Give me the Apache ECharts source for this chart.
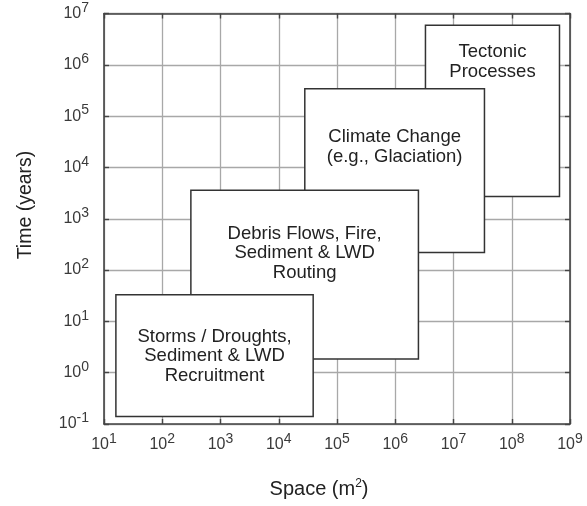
<!DOCTYPE html>
<html>
<head>
<meta charset="utf-8">
<script src="https://cdn.jsdelivr.net/npm/echarts@6/dist/echarts.min.js"></script>
<style>
  html, body { margin: 0; padding: 0; background: #fff; }
  #chart { width: 587px; height: 506px; }
</style>
</head>
<body>
<div id="chart"></div>
<script>
// Process domains: spatial extent (m^2) and time scale (years), drawn back to front
const processNames = [
  'Tectonic\nProcesses',
  'Climate Change\n(e.g., Glaciation)',
  'Debris Flows, Fire,\nSediment & LWD\nRouting',
  'Storms / Droughts,\nSediment & LWD\nRecruitment'
];
const spaceMin = [3.3e6, 2.8e4, 3.1e2, 16];
const spaceMax = [6.6e8, 3.4e7, 2.5e6, 3.9e4];
const timeMin  = [2.7e3, 2.2e2, 1.85, 0.14];
const timeMax  = [5.9e6, 3.4e5, 3.6e3, 33];
// vertical position of each caption (years)
const labelTime = [1.15e6, 2.5e4, 2.15e2, 2.1];

// decade tick exponents
const xTickExponents = [1, 2, 3, 4, 5, 6, 7, 8, 9];
const yTickExponents = [-1, 0, 1, 2, 3, 4, 5, 6, 7];

const FONT = '"Liberation Sans", Arial, Helvetica, sans-serif';

const data = processNames.map((n, i) => [spaceMin[i], spaceMax[i], timeMin[i], timeMax[i], labelTime[i]]);

function powerLabel(exps) {
  return function (v) {
    const e = Math.round(Math.log10(v));
    return exps.indexOf(e) >= 0 ? '{b|10}{s|' + e + '}' : '';
  };
}
const richPow = {
  b: { fontFamily: FONT, fontSize: 16, color: '#3a3a3a' },
  s: { fontFamily: FONT, fontSize: 14, color: '#3a3a3a', padding: [0, 0, 11, 0] }
};

const frame = { show: true, lineStyle: { color: '#444', width: 1.6 } };
const innerTick = { show: true, inside: true, length: 5, lineStyle: { color: '#444', width: 1.4 } };
const grid = { show: true, lineStyle: { color: '#a8a8a8', width: 1.3 } };

const chart = echarts.init(document.getElementById('chart'), null, { renderer: 'canvas' });
chart.setOption({
  animation: false,
  backgroundColor: '#fff',
  grid: { left: 104, right: 17, top: 13.5, bottom: 82 },
  xAxis: [
    {
      type: 'log', logBase: 10, min: 10, max: 1e9, position: 'bottom',
      axisLine: frame, axisTick: innerTick, splitLine: grid, minorTick: { show: false },
      axisLabel: { margin: 8, fontSize: 16, fontFamily: FONT, color: '#3a3a3a',
        formatter: powerLabel(xTickExponents), rich: richPow }
    },
    {
      type: 'log', logBase: 10, min: 10, max: 1e9, position: 'top',
      axisLine: frame, axisTick: innerTick, splitLine: { show: false }, axisLabel: { show: false }
    }
  ],
  yAxis: [
    {
      type: 'log', logBase: 10, min: 0.1, max: 1e7, position: 'left',
      axisLine: frame, axisTick: innerTick, splitLine: grid, minorTick: { show: false },
      axisLabel: { margin: 15, fontSize: 16, fontFamily: FONT, color: '#3a3a3a',
        formatter: powerLabel(yTickExponents), rich: richPow }
    },
    {
      type: 'log', logBase: 10, min: 0.1, max: 1e7, position: 'right',
      axisLine: frame, axisTick: innerTick, splitLine: { show: false }, axisLabel: { show: false }
    }
  ],
  series: [{
    type: 'custom',
    xAxisIndex: 0, yAxisIndex: 0,
    clip: false,
    encode: { x: [0, 1], y: [2, 3, 4] },
    data: data,
    renderItem: function (params, api) {
      const tl = api.coord([api.value(0), api.value(3)]);
      const br = api.coord([api.value(1), api.value(2)]);
      const lc = api.coord([Math.sqrt(api.value(0) * api.value(1)), api.value(4)]);
      return {
        type: 'group',
        children: [
          {
            type: 'rect',
            shape: { x: tl[0], y: tl[1], width: br[0] - tl[0], height: br[1] - tl[1] },
            style: { fill: '#fff', stroke: '#333', lineWidth: 1.5 }
          },
          {
            type: 'text',
            style: {
              text: processNames[params.dataIndex],
              x: lc[0], y: lc[1],
              align: 'center', verticalAlign: 'middle',
              fontFamily: FONT, fontSize: 18.5, lineHeight: 19.5,
              fill: '#222'
            }
          }
        ]
      };
    }
  }],
  graphic: [
    {
      type: 'text', x: 319, y: 489,
      style: { text: 'Space (m{sup|2})', fontFamily: FONT, fontSize: 20, fill: '#222',
        align: 'center', verticalAlign: 'middle',
        rich: { sup: { fontFamily: FONT, fontSize: 12, fill: '#222', padding: [0, 0, 11, 0] } } }
    },
    {
      type: 'text', x: 26, y: 205, rotation: Math.PI / 2,
      style: { text: 'Time (years)', fontFamily: FONT, fontSize: 19.5, fill: '#222',
        align: 'center', verticalAlign: 'middle' }
    }
  ]
});
</script>
</body>
</html>
